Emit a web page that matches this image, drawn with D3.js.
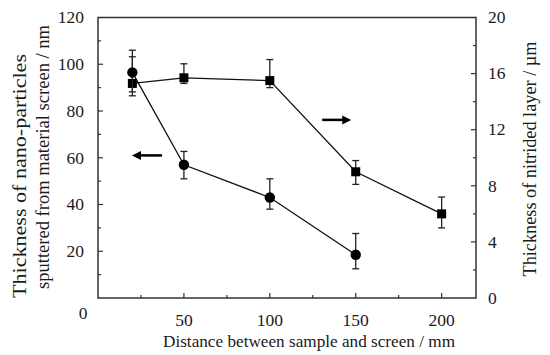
<head>
    <meta charset="utf-8">
    <style> body { margin: 0; background: #fff; } </style>
    <script src="https://d3js.org/d3.v7.min.js"></script>
</head>
<body>
<div id="chart"></div>
<script>

    // distance between sample and screen, mm
    var distNano = [20, 50, 100, 150];
    var nano = [96.5, 57, 43, 18.5];          // nm, left axis
    var nanoLo = [86.5, 51, 38, 12.5];
    var nanoHi = [106, 62.7, 51, 27.6];

    var distLayer = [20, 50, 100, 150, 200];
    var layer = [15.3, 15.7, 15.5, 9.0, 6.0];  // µm, right axis
    var layerLo = [14.7, 15.3, 15.0, 8.1, 5.0];
    var layerHi = [17.2, 16.7, 17.0, 9.8, 7.2];

    var xTicks = [50, 100, 150, 200];
    var leftTicks = [20, 40, 60, 80, 100, 120];
    var rightTicks = [0, 4, 8, 12, 16, 20];

    var W = 550, H = 355;
    var margin = {top: 17.5, right: 74, bottom: 57, left: 98};
    var width = W - margin.left - margin.right,
        height = H - margin.top - margin.bottom;

    var svg = d3.select("#chart").append("svg")
        .attr("width", W)
        .attr("height", H)
        .style("font-family", "'Liberation Serif', 'Times New Roman', serif")
        .attr("fill", "#1a1a1a");

    var focus = svg.append("g")
        .attr("transform", "translate(" + margin.left + "," + margin.top + ")");

    var x = d3.scaleLinear().domain([0, 220]).range([0, width]);
    var yL = d3.scaleLinear().domain([0, 120]).range([height, 0]);
    var yR = d3.scaleLinear().domain([0, 20]).range([height, 0]);

    // frame
    focus.append("rect")
        .attr("width", width).attr("height", height)
        .attr("fill", "none").attr("stroke", "#333").attr("stroke-width", 1.5);

    // ticks, pointing into the plot
    var tk = focus.append("g").attr("stroke", "#333").attr("stroke-width", 1.2);

    d3.range(25, 220, 25).forEach(function(v) {
        var len = v % 50 == 0 ? 5 : 3;
        tk.append("line").attr("x1", x(v)).attr("x2", x(v)).attr("y1", height).attr("y2", height - len);
    });
    d3.range(10, 120, 10).forEach(function(v) {
        var len = v % 20 == 0 ? 5 : 3;
        tk.append("line").attr("x1", 0).attr("x2", len).attr("y1", yL(v)).attr("y2", yL(v));
    });
    d3.range(2, 20, 2).forEach(function(v) {
        var len = v % 4 == 0 ? 5 : 3;
        tk.append("line").attr("x1", width).attr("x2", width - len).attr("y1", yR(v)).attr("y2", yR(v));
    });

    // tick labels
    var lab = focus.append("g").style("font-size", "17.5px");
    xTicks.forEach(function(v) {
        lab.append("text").attr("x", x(v)).attr("y", height + 28).attr("text-anchor", "middle").text(v);
    });
    lab.append("text").attr("x", x(0) - 15).attr("y", height + 21).attr("text-anchor", "middle").text("0");
    leftTicks.forEach(function(v) {
        lab.append("text").attr("x", -14).attr("y", yL(v)).attr("dy", "0.33em").attr("text-anchor", "end").text(v);
    });
    rightTicks.forEach(function(v) {
        lab.append("text").attr("x", width + 12).attr("y", yR(v)).attr("dy", "0.33em").text(v);
    });

    // axis titles
    svg.append("text")
        .attr("x", 309).attr("y", 347).attr("text-anchor", "middle")
        .style("font-size", "17.5px")
        .attr("textLength", 292).attr("lengthAdjust", "spacingAndGlyphs")
        .text("Distance between sample and screen / mm");

    svg.append("text")
        .attr("transform", "translate(26,176) rotate(-90)").attr("text-anchor", "middle")
        .style("font-size", "18.5px")
        .attr("textLength", 244).attr("lengthAdjust", "spacingAndGlyphs")
        .text("Thickness of nano-particles");
    svg.append("text")
        .attr("transform", "translate(49,157) rotate(-90)").attr("text-anchor", "middle")
        .style("font-size", "18.5px")
        .attr("textLength", 264).attr("lengthAdjust", "spacingAndGlyphs")
        .text("sputtered from material screen / nm");

    svg.append("text")
        .attr("transform", "translate(536,159) rotate(-90)").attr("text-anchor", "middle")
        .style("font-size", "18.5px")
        .attr("textLength", 235).attr("lengthAdjust", "spacingAndGlyphs")
        .text("Thickness of nitrided layer / µm");

    // series
    var lines = focus.append("g");

    function addSeries(xs, ys, lo, hi, y, shape) {
        var pts = xs.map(function(d, i) { return {x: d, y: ys[i], lo: lo[i], hi: hi[i]}; });

        lines.append("path")
            .datum(pts)
            .attr("fill", "none").attr("stroke", "#111").attr("stroke-width", 1.3)
            .attr("d", d3.line().x(d => x(d.x)).y(d => y(d.y)));

        var eb = lines.append("g").attr("stroke", "#222").attr("stroke-width", 1.3);
        pts.forEach(function(d) {
            eb.append("line").attr("x1", x(d.x)).attr("x2", x(d.x)).attr("y1", y(d.lo)).attr("y2", y(d.hi));
            eb.append("line").attr("x1", x(d.x) - 3.5).attr("x2", x(d.x) + 3.5).attr("y1", y(d.lo)).attr("y2", y(d.lo));
            eb.append("line").attr("x1", x(d.x) - 3.5).attr("x2", x(d.x) + 3.5).attr("y1", y(d.hi)).attr("y2", y(d.hi));
        });

        if (shape == "circle") {
            lines.selectAll(null).data(pts).enter().append("circle")
                .attr("cx", d => x(d.x)).attr("cy", d => y(d.y)).attr("r", 5.2).attr("fill", "#000");
        } else {
            lines.selectAll(null).data(pts).enter().append("rect")
                .attr("x", d => x(d.x) - 4.5).attr("y", d => y(d.y) - 4.5)
                .attr("width", 9).attr("height", 9).attr("fill", "#000");
        }
    }

    addSeries(distLayer, layer, layerLo, layerHi, yR, "square");
    addSeries(distNano, nano, nanoLo, nanoHi, yL, "circle");

    // arrows showing which axis each series belongs to
    function arrow(x1, x2, yy) {
        var dir = x2 > x1 ? 1 : -1;
        focus.append("line").attr("x1", x1).attr("x2", x2 - dir * 7).attr("y1", yy).attr("y2", yy)
            .attr("stroke", "#000").attr("stroke-width", 2.5);
        focus.append("path")
            .attr("d", "M" + x2 + "," + yy + "L" + (x2 - dir * 9) + "," + (yy - 4.5) + "L" + (x2 - dir * 9) + "," + (yy + 4.5) + "Z")
            .attr("fill", "#000");
    }
    arrow(x(37.3), x(19.8), yL(61));
    arrow(x(130.5), x(147.4), yR(12.7));

</script>
</body>
